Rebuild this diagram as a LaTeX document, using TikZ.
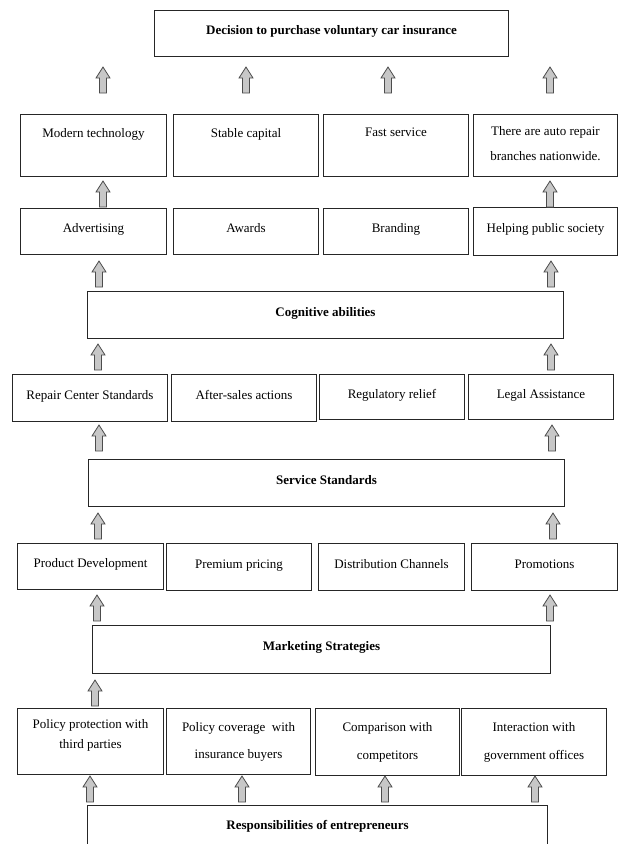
\documentclass[tikz,border=0pt]{standalone}
\usepackage{fontspec}
\setmainfont{Liberation Serif}
\begin{document}
\begin{tikzpicture}[x=1pt,y=-1pt,
  box/.style={draw=black!85, line width=1pt, anchor=north west, inner sep=1pt, align=center,
    font=\fontsize{13}{20}\selectfont, text height=9pt, text depth=7pt},
  plain/.style={box, text height=, text depth=},
  bbox/.style={box, font=\fontsize{13}{16}\selectfont\bfseries},
  lbl/.style={anchor=north, inner sep=0pt, align=center},
  uparr/.pic={\draw[draw=black!70, fill=black!22, line width=0.8pt, line join=miter]
    (0,0) -- (7,11) -- (3.5,11) -- (3.5,26) -- (-3.5,26) -- (-3.5,11) -- (-7,11) -- cycle;}
]
\useasboundingbox (0,0) rectangle (619,844);
\clip (0,0) rectangle (619,844);

% top
\node[bbox, minimum width=354, minimum height=46] (dec) at (154,10) {Decision to purchase voluntary car insurance};

% row 2
\node[box, minimum width=146, minimum height=62,
  label={[lbl,yshift=-14pt,font=\fontsize{13}{20}\selectfont]north:Modern technology}] (m1) at (20,114) {};
\node[box, minimum width=145, minimum height=62,
  label={[lbl,yshift=-14pt,font=\fontsize{13}{20}\selectfont]north:Stable capital}] (m2) at (173,114) {};
\node[box, minimum width=145, minimum height=62,
  label={[lbl,yshift=-14pt,font=\fontsize{13}{20}\selectfont]north:Fast service}] (m3) at (323,114) {};
\node[box, minimum width=144, minimum height=62,
  label={[lbl,yshift=-12pt,font=\fontsize{13}{25}\selectfont]north:There are auto repair\\branches nationwide.}] (m4) at (473,114) {};

% row 3
\node[box, minimum width=146, minimum height=46] (a1) at (20,208) {Advertising};
\node[box, minimum width=145, minimum height=46] (a2) at (173,208) {Awards};
\node[box, minimum width=145, minimum height=46] (a3) at (323,208) {Branding};
\node[box, minimum width=144, minimum height=48] (a4) at (473,207) {Helping public society};

% cognitive
\node[bbox, minimum width=476, minimum height=47] (cog) at (87,291) {Cognitive abilities};

% row 4
\node[box, minimum width=155, minimum height=47] (r1) at (12,374) {Repair Center Standards};
\node[box, minimum width=145, minimum height=47] (r2) at (171,374) {After-sales actions};
\node[box, minimum width=145, minimum height=45] (r3) at (319,374) {Regulatory relief};
\node[box, minimum width=145, minimum height=45] (r4) at (468,374) {Legal Assistance};

% service
\node[bbox, minimum width=476, minimum height=47] (srv) at (88,459) {Service Standards};

% row 5
\node[box, minimum width=146, minimum height=46] (p1) at (17,543) {Product Development};
\node[box, minimum width=145, minimum height=47] (p2) at (166,543) {Premium pricing};
\node[box, minimum width=146, minimum height=47] (p3) at (318,543) {Distribution Channels};
\node[box, minimum width=146, minimum height=47] (p4) at (471,543) {Promotions};

% marketing
\node[bbox, minimum width=458, minimum height=48] (mkt) at (92,625) {Marketing Strategies};

% row 6
\node[box, minimum width=146, minimum height=66,
  label={[lbl,yshift=-11pt,font=\fontsize{13}{20}\selectfont]north:Policy protection with\\third parties}] (q1) at (17,708) {};
\node[plain, minimum width=144, minimum height=66, font=\fontsize{13}{27}\selectfont] (q2) at (166,708) {Policy coverage\enspace with\\insurance buyers};
\node[plain, minimum width=144, minimum height=67, font=\fontsize{13}{28}\selectfont] (q3) at (315,708) {Comparison with\\competitors};
\node[plain, minimum width=145, minimum height=67, font=\fontsize{13}{28}\selectfont] (q4) at (461,708) {Interaction with\\government offices};

% bottom
\node[bbox, minimum width=460, minimum height=46] (resp) at (87,805) {Responsibilities of entrepreneurs};

% arrows
\foreach \x in {103,246,388,550} \pic at (\x,67) {uparr};
\foreach \x in {103,550} \pic at (\x,181) {uparr};
\foreach \x in {99,551} \pic at (\x,261) {uparr};
\foreach \x in {98,551} \pic at (\x,344) {uparr};
\foreach \x in {99,552} \pic at (\x,425) {uparr};
\foreach \x in {98,553} \pic at (\x,513) {uparr};
\foreach \x in {97,550} \pic at (\x,595) {uparr};
\pic at (95,680) {uparr};
\foreach \x in {90,242,385,535} \pic at (\x,776) {uparr};
\end{tikzpicture}
\end{document}
